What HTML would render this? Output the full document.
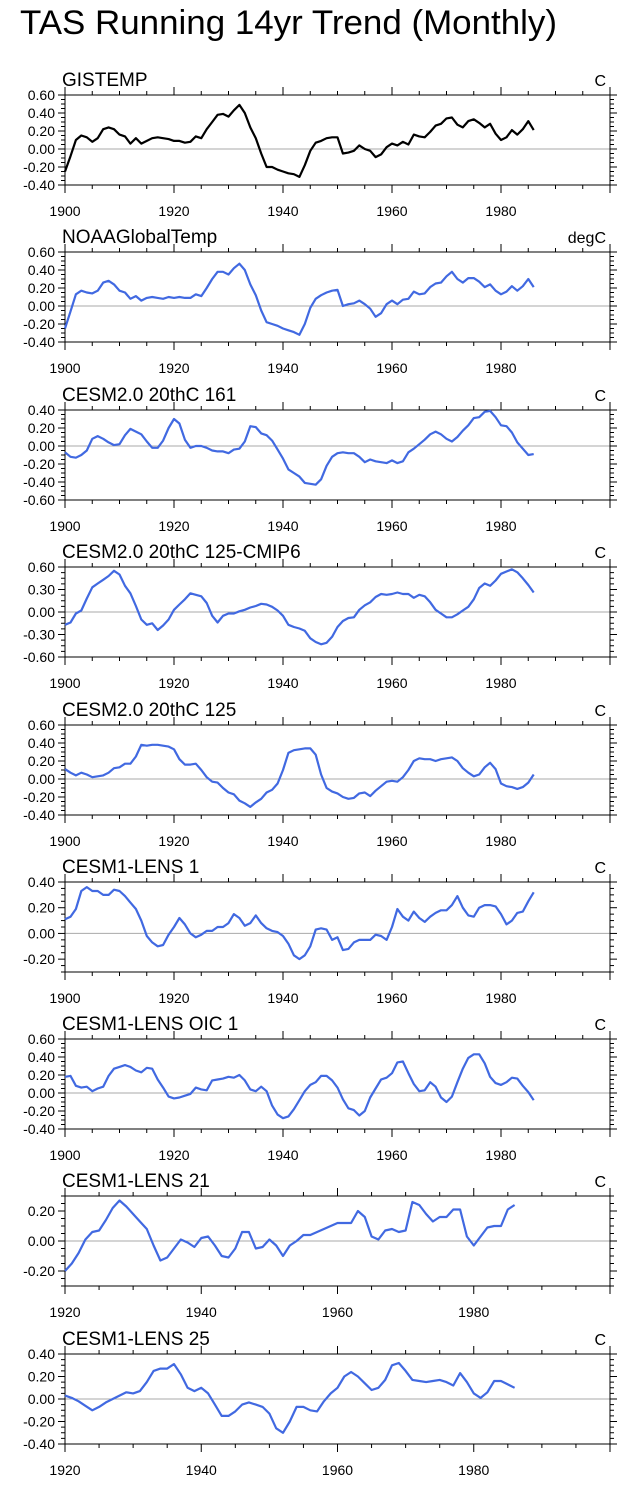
<!DOCTYPE html>
<html><head><meta charset="utf-8"><style>
body{margin:0;background:#fff;}
svg{display:block;font-family:"Liberation Sans",Arial,sans-serif;}
</style></head><body>
<svg id="chart" width="624" height="1485" viewBox="0 0 624 1485">
<text x="20" y="34" font-size="34" fill="#000" textLength="537" lengthAdjust="spacingAndGlyphs">TAS Running 14yr Trend (Monthly)</text>
</svg>
<script>
const gistemp=[-0.25,-0.08,0.10,0.15,0.13,0.08,0.12,0.22,0.24,0.22,0.16,0.14,0.06,0.12,0.06,0.09,0.12,0.13,0.12,0.11,0.09,0.09,0.07,0.08,0.14,0.12,0.22,0.30,0.38,0.39,0.36,0.43,0.49,0.40,0.24,0.12,-0.05,-0.20,-0.20,-0.23,-0.25,-0.27,-0.28,-0.31,-0.18,-0.02,0.07,0.09,0.12,0.13,0.13,-0.05,-0.04,-0.02,0.04,0.00,-0.02,-0.09,-0.06,0.02,0.06,0.04,0.08,0.05,0.16,0.14,0.13,0.19,0.26,0.28,0.34,0.35,0.27,0.24,0.31,0.33,0.29,0.24,0.28,0.17,0.10,0.13,0.21,0.16,0.22,0.31,0.21];
const noaa=[-0.25,-0.06,0.13,0.17,0.15,0.14,0.17,0.26,0.28,0.24,0.17,0.15,0.08,0.11,0.06,0.09,0.10,0.09,0.08,0.10,0.09,0.10,0.09,0.09,0.13,0.11,0.20,0.30,0.38,0.38,0.35,0.42,0.47,0.40,0.24,0.12,-0.05,-0.18,-0.20,-0.22,-0.25,-0.27,-0.29,-0.32,-0.20,-0.02,0.08,0.12,0.15,0.17,0.18,0.00,0.02,0.03,0.06,0.02,-0.03,-0.12,-0.08,0.02,0.06,0.02,0.07,0.08,0.16,0.13,0.14,0.21,0.25,0.26,0.33,0.38,0.30,0.26,0.31,0.31,0.27,0.21,0.24,0.17,0.13,0.16,0.22,0.17,0.22,0.30,0.21];
const c161=[-0.07,-0.12,-0.13,-0.10,-0.05,0.08,0.11,0.08,0.04,0.01,0.02,0.12,0.19,0.16,0.13,0.05,-0.02,-0.02,0.06,0.20,0.30,0.25,0.07,-0.02,0.00,0.00,-0.02,-0.05,-0.06,-0.06,-0.08,-0.04,-0.03,0.05,0.22,0.21,0.14,0.12,0.06,-0.04,-0.14,-0.26,-0.30,-0.34,-0.41,-0.42,-0.43,-0.37,-0.22,-0.12,-0.08,-0.07,-0.08,-0.08,-0.12,-0.18,-0.15,-0.17,-0.18,-0.19,-0.16,-0.19,-0.17,-0.07,-0.03,0.02,0.07,0.13,0.16,0.13,0.08,0.05,0.10,0.17,0.23,0.31,0.32,0.38,0.39,0.32,0.23,0.22,0.15,0.04,-0.03,-0.10,-0.09];
const c125cmip6=[-0.17,-0.14,-0.02,0.02,0.18,0.33,0.38,0.43,0.48,0.55,0.50,0.35,0.25,0.08,-0.10,-0.17,-0.15,-0.24,-0.18,-0.10,0.03,0.10,0.17,0.25,0.23,0.21,0.12,-0.05,-0.14,-0.05,-0.02,-0.02,0.01,0.03,0.06,0.08,0.11,0.10,0.07,0.02,-0.05,-0.17,-0.20,-0.22,-0.25,-0.35,-0.40,-0.43,-0.41,-0.33,-0.20,-0.12,-0.08,-0.07,0.03,0.09,0.13,0.20,0.24,0.23,0.24,0.26,0.24,0.24,0.19,0.23,0.21,0.13,0.03,-0.02,-0.07,-0.07,-0.03,0.02,0.07,0.17,0.32,0.38,0.35,0.42,0.51,0.54,0.57,0.53,0.45,0.36,0.26];
const c125=[0.11,0.07,0.04,0.07,0.05,0.02,0.03,0.04,0.07,0.12,0.13,0.17,0.17,0.25,0.38,0.37,0.38,0.38,0.37,0.36,0.33,0.22,0.16,0.16,0.17,0.10,0.02,-0.03,-0.04,-0.10,-0.15,-0.17,-0.24,-0.27,-0.31,-0.26,-0.22,-0.15,-0.12,-0.05,0.10,0.29,0.32,0.33,0.34,0.34,0.27,0.05,-0.10,-0.14,-0.16,-0.20,-0.22,-0.21,-0.16,-0.15,-0.19,-0.13,-0.08,-0.03,-0.02,-0.03,0.02,0.10,0.20,0.23,0.22,0.22,0.20,0.22,0.23,0.24,0.20,0.12,0.07,0.03,0.05,0.13,0.18,0.11,-0.05,-0.08,-0.09,-0.11,-0.09,-0.04,0.05];
const lens1=[0.11,0.13,0.19,0.33,0.36,0.33,0.33,0.30,0.30,0.34,0.33,0.29,0.24,0.19,0.10,-0.02,-0.07,-0.10,-0.09,-0.01,0.05,0.12,0.07,0.00,-0.03,-0.01,0.02,0.02,0.05,0.05,0.08,0.15,0.12,0.06,0.08,0.14,0.08,0.04,0.02,0.01,-0.02,-0.08,-0.17,-0.20,-0.17,-0.10,0.03,0.04,0.03,-0.05,-0.03,-0.13,-0.12,-0.07,-0.05,-0.05,-0.05,-0.01,-0.02,-0.05,0.05,0.19,0.13,0.10,0.17,0.12,0.09,0.13,0.16,0.18,0.18,0.22,0.29,0.20,0.14,0.13,0.20,0.22,0.22,0.21,0.15,0.07,0.10,0.16,0.17,0.25,0.32];
const lensOic1=[0.18,0.19,0.08,0.06,0.07,0.02,0.05,0.07,0.19,0.27,0.29,0.31,0.29,0.25,0.23,0.28,0.27,0.15,0.06,-0.04,-0.06,-0.05,-0.03,-0.01,0.06,0.04,0.03,0.14,0.15,0.16,0.18,0.17,0.20,0.14,0.04,0.02,0.07,0.02,-0.14,-0.24,-0.28,-0.26,-0.18,-0.08,0.02,0.09,0.12,0.19,0.19,0.14,0.06,-0.07,-0.17,-0.19,-0.25,-0.20,-0.05,0.05,0.15,0.17,0.22,0.34,0.35,0.22,0.10,0.02,0.03,0.12,0.07,-0.05,-0.10,-0.04,0.12,0.27,0.39,0.43,0.43,0.33,0.18,0.11,0.09,0.12,0.17,0.16,0.08,0.01,-0.08];
const lens21=[-0.20,-0.15,-0.08,0.01,0.06,0.07,0.14,0.22,0.27,0.23,0.18,0.13,0.08,-0.03,-0.13,-0.11,-0.05,0.01,-0.01,-0.04,0.02,0.03,-0.03,-0.10,-0.11,-0.05,0.06,0.06,-0.05,-0.04,0.01,-0.03,-0.10,-0.03,0.00,0.04,0.04,0.06,0.08,0.10,0.12,0.12,0.12,0.20,0.16,0.03,0.01,0.07,0.08,0.06,0.07,0.26,0.24,0.18,0.13,0.16,0.16,0.21,0.21,0.03,-0.03,0.03,0.09,0.10,0.10,0.21,0.24];
const lens25=[0.03,0.01,-0.02,-0.06,-0.10,-0.07,-0.03,0.00,0.03,0.06,0.05,0.07,0.15,0.25,0.27,0.27,0.31,0.22,0.10,0.07,0.10,0.05,-0.05,-0.15,-0.15,-0.11,-0.05,-0.03,-0.05,-0.07,-0.13,-0.26,-0.30,-0.20,-0.07,-0.07,-0.10,-0.11,-0.02,0.05,0.10,0.20,0.24,0.20,0.14,0.08,0.10,0.17,0.30,0.32,0.25,0.17,0.16,0.15,0.16,0.17,0.15,0.12,0.23,0.15,0.05,0.01,0.06,0.16,0.16,0.13,0.10];
const panelTitles=["GISTEMP","NOAAGlobalTemp","CESM2.0 20thC 161","CESM2.0 20thC 125-CMIP6","CESM2.0 20thC 125","CESM1-LENS 1","CESM1-LENS OIC 1","CESM1-LENS 21","CESM1-LENS 25"];
const unitLabels=["C","degC","C","C","C","C","C","C","C"];
const seriesList=[gistemp,noaa,c161,c125cmip6,c125,lens1,lensOic1,lens21,lens25];
const startYears=[1900,1900,1900,1900,1900,1900,1900,1920,1920];
const yMins=[-0.4,-0.4,-0.6,-0.6,-0.4,-0.3,-0.4,-0.3,-0.4];
const yMaxs=[0.6,0.6,0.4,0.6,0.6,0.4,0.6,0.3,0.4];
const yMajors=[0.2,0.2,0.2,0.3,0.2,0.2,0.2,0.2,0.2];
const xMins=[1900,1900,1900,1900,1900,1900,1900,1920,1920];
const xMax=2000;

const NS="http://www.w3.org/2000/svg";
const svg=document.getElementById('chart');
const tops=[95,252,410,567,725,882,1039,1196,1354];
const L=65,R=610,H=90;
function mk(tag,attrs,parent){const e=document.createElementNS(NS,tag);for(const k in attrs)e.setAttribute(k,attrs[k]);(parent||svg).appendChild(e);return e;}
const slug=s=>s.toLowerCase().replace(/[^a-z0-9]+/g,'-').replace(/-$/,'');
seriesList.forEach((data,i)=>{
  const top=tops[i],bot=top+H;
  const g=mk('g',{});
  
  
  const xs=y=>L+(y-xMins[i])/(xMax-xMins[i])*(R-L);
  const ys=v=>bot-(v-yMins[i])/(yMaxs[i]-yMins[i])*H;
  const t=mk('text',{x:62,y:top-9,'font-size':19},g);t.textContent=panelTitles[i];
  
  const u=mk('text',{x:606,y:top-9,'font-size':16,'text-anchor':'end'},g);u.textContent=unitLabels[i];
  
  const z=mk('line',{x1:L,x2:R,y1:ys(0),y2:ys(0),stroke:'#aaa','stroke-width':1},g);
  
  const step=yMajors[i]/4;
  const n=Math.round((yMaxs[i]-yMins[i])/step);
  for(let k=0;k<=n;k++){
    const v=yMins[i]+k*step;const y=ys(v);
    const major=Math.abs(v/yMajors[i]-Math.round(v/yMajors[i]))<1e-6;
    const len=major?7:4;
    mk('line',{x1:L-len,x2:L,y1:y,y2:y,stroke:'#000','stroke-width':1},g);
    mk('line',{x1:R,x2:R+len,y1:y,y2:y,stroke:'#000','stroke-width':1},g);
    if(major){const tl=mk('text',{x:L-10,y:y+5,'font-size':14,'text-anchor':'end'},g);
      tl.textContent=(Math.abs(v)<1e-9?0:v).toFixed(2);
      }
  }
  for(let yr=xMins[i];yr<=xMax;yr+=5){
    const x=xs(yr);const major=(yr%20===0);const len=major?8:4;
    mk('line',{x1:x,x2:x,y1:top-len,y2:top,stroke:'#000','stroke-width':1},g);
    mk('line',{x1:x,x2:x,y1:bot,y2:bot+len,stroke:'#000','stroke-width':1},g);
    if(major&&yr<xMax){const tl=mk('text',{x:x,y:bot+31,'font-size':14,'text-anchor':'middle'},g);
      tl.textContent=yr;}
  }
  mk('rect',{x:L,y:top,width:R-L,height:H,fill:'none',stroke:'#000','stroke-width':1},g);
  const pts=data.map((v,j)=>xs(startYears[i]+j).toFixed(1)+','+ys(v).toFixed(1)).join(' ');
  const pl=mk('polyline',{points:pts,fill:'none',stroke:i===0?'#000':'#4169e1','stroke-width':2.2,'stroke-linejoin':'round'},g);
  
});
</script>
</body></html>
